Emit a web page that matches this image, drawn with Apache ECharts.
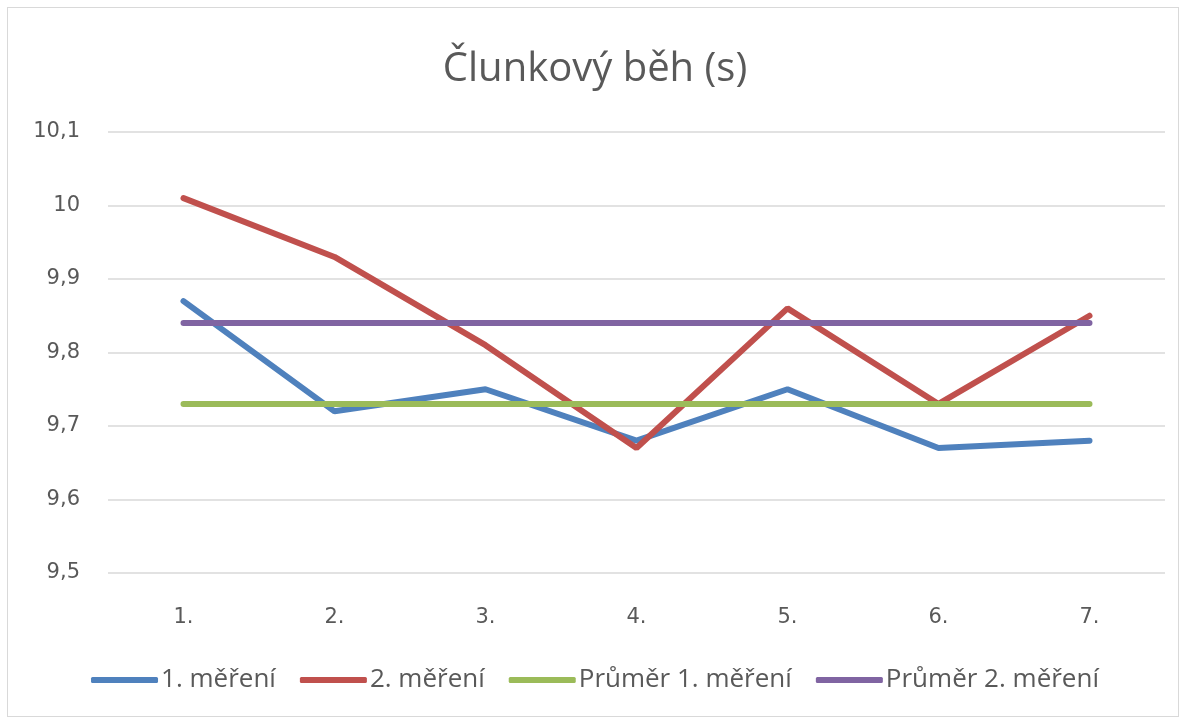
<!DOCTYPE html>
<html>
    <head>
        <meta charset="utf-8">
        <title>Člunkový běh</title>
        <script src="https://cdn.jsdelivr.net/npm/echarts@6/dist/echarts.min.js"></script>
        <style>
            html, body { margin: 0; padding: 0; background: #fff; }
            #frame { position: absolute; left: 7px; top: 7px; width: 1172px; height: 710px; border: 1px solid #d9d9d9; box-sizing: border-box; }
            #chart1 { width: 1190px; height: 722px; }
        </style>
    </head>
    <body>
        <div id="frame"></div>
        <div id="chart1"></div>
        <script type="text/javascript">
            // data
            var poradi = ['1.', '2.', '3.', '4.', '5.', '6.', '7.'];
            var mereni1 = [9.87, 9.72, 9.75, 9.68, 9.75, 9.67, 9.68];
            var mereni2 = [10.01, 9.93, 9.81, 9.67, 9.86, 9.73, 9.85];
            var prumer1 = [9.73, 9.73, 9.73, 9.73, 9.73, 9.73, 9.73];
            var prumer2 = [9.84, 9.84, 9.84, 9.84, 9.84, 9.84, 9.84];
            var nazvy = ['1. měření', '2. měření', 'Průměr 1. měření', 'Průměr 2. měření'];
            var barvy = ['#4f81bd', '#c0504d', '#9bbb59', '#8064a2'];

            var myChart1 = echarts.init(document.getElementById('chart1'));

            function rada(i, data) {
                return {
                    name: nazvy[i],
                    type: 'line',
                    data: data,
                    symbol: 'none',
                    lineStyle: { width: 6, color: barvy[i], cap: 'round' },
                    itemStyle: { color: barvy[i] }
                };
            }

            myChart1.setOption({
                animation: false,
                title: {
                    text: 'Člunkový běh (s)',
                    left: 'center',
                    top: 45,
                    textStyle: { fontFamily: 'Open Sans', fontWeight: 'normal', fontSize: 40, color: '#595959' }
                },
                legend: {
                    data: nazvy,
                    bottom: 24,
                    left: 'center',
                    itemWidth: 67,
                    itemHeight: 6,
                    itemGap: 24,
                    icon: 'roundRect',
                    textStyle: { fontFamily: 'Open Sans', fontSize: 26, color: '#595959', padding: [0, 0, 0, -2] }
                },
                grid: { left: 108, right: 25, top: 132, bottom: 149, containLabel: false },
                xAxis: {
                    type: 'category',
                    data: poradi,
                    boundaryGap: true,
                    axisLine: { show: false },
                    axisTick: { show: false },
                    axisLabel: { margin: 34, fontFamily: 'DejaVu Sans', fontSize: 21, color: '#595959' }
                },
                yAxis: {
                    type: 'value',
                    min: 9.5,
                    max: 10.1,
                    interval: 0.1,
                    axisLine: { show: false },
                    axisTick: { show: false },
                    splitLine: { lineStyle: { color: '#d9d9d9', width: 1.5 } },
                    axisLabel: {
                        margin: 28,
                        fontFamily: 'DejaVu Sans', fontSize: 21, color: '#595959',
                        formatter: function (v) { return (Math.round(v * 10) / 10).toString().replace('.', ','); }
                    }
                },
                series: [rada(0, mereni1), rada(1, mereni2), rada(2, prumer1), rada(3, prumer2)]
            });
        </script>
    </body>
</html>
